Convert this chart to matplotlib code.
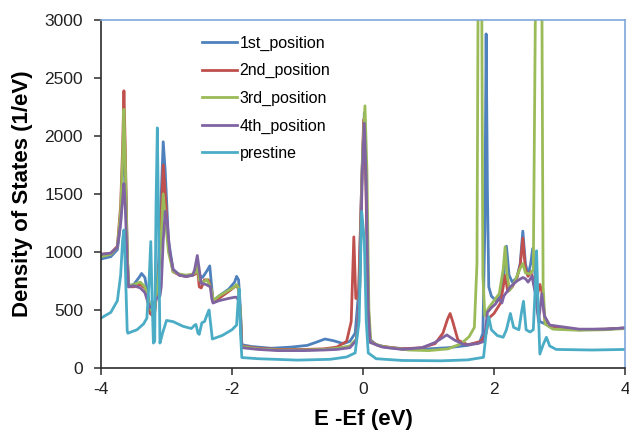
import matplotlib
matplotlib.use("Agg")
import matplotlib.pyplot as plt

plt.rcParams['font.family'] = ['Liberation Sans', 'DejaVu Sans']

# 1st_position
e1 = [-4.0, -3.85, -3.75, -3.70, -3.67, -3.65, -3.63, -3.60, -3.58, -3.50, -3.42, -3.38, -3.33, -3.28,
      -3.25, -3.22, -3.18, -3.12, -3.08, -3.05, -3.02, -2.97, -2.90, -2.80, -2.70, -2.60, -2.56, -2.53,
      -2.50, -2.45, -2.38, -2.34, -2.31, -2.29, -2.20, -2.05, -1.96, -1.93, -1.90, -1.87, -1.85, -1.70,
      -1.40, -1.10, -0.85, -0.70, -0.58, -0.45, -0.30, -0.20, -0.12, -0.06, -0.02, 0.02, 0.05, 0.08,
      0.10, 0.20, 0.40, 0.70, 1.00, 1.30, 1.60, 1.78, 1.83, 1.86, 1.88, 1.90, 1.92, 1.96, 2.03, 2.10,
      2.15, 2.19, 2.23, 2.28, 2.35, 2.40, 2.44, 2.48, 2.52, 2.56, 2.59, 2.62, 2.66, 2.70, 2.78, 2.90,
      3.30, 3.70, 4.0]
v1 = [940, 960, 1020, 1250, 1700, 2050, 1700, 1000, 710, 720, 780, 815, 780, 620,
      520, 470, 500, 900, 1500, 1950, 1700, 1100, 850, 800, 790, 800, 820, 900,
      800, 780, 840, 880, 700, 580, 620, 680, 740, 790, 760, 500, 200, 185,
      170, 180, 195, 225, 250, 235, 210, 230, 300, 700, 1600, 2200, 1500, 600,
      250, 200, 175, 165, 165, 175, 195, 220, 300, 1200, 2880, 1500, 700, 620, 580, 620,
      800, 1050, 800, 740, 780, 900, 1180, 900, 800, 900, 1030, 850, 500, 400, 380, 340,
      330, 335, 345]

# 2nd_position
e2 = [-4.0, -3.85, -3.75, -3.70, -3.67, -3.65, -3.63, -3.60, -3.58, -3.50, -3.40, -3.33, -3.28, -3.25,
      -3.22, -3.18, -3.12, -3.08, -3.05, -3.02, -2.97, -2.90, -2.80, -2.70, -2.60, -2.56, -2.53, -2.50,
      -2.47, -2.42, -2.36, -2.31, -2.29, -2.20, -2.05, -1.96, -1.93, -1.90, -1.87, -1.85, -1.60, -1.30,
      -0.90, -0.60, -0.40, -0.25, -0.18, -0.14, -0.11, -0.07, -0.03, 0.01, 0.04, 0.08, 0.11, 0.25,
      0.60, 0.90, 1.10, 1.22, 1.29, 1.33, 1.37, 1.45, 1.60, 1.80, 1.88, 1.92, 2.00, 2.10, 2.17, 2.21,
      2.28, 2.35, 2.40, 2.44, 2.48, 2.52, 2.56, 2.60, 2.65, 2.70, 2.73, 2.78, 2.90, 3.30, 3.70, 4.0]
v2 = [980, 990, 1050, 1400, 1900, 2390, 1900, 1000, 700, 700, 720, 690, 560, 470,
      455, 480, 800, 1300, 1750, 1500, 1050, 830, 800, 790, 800, 810, 880, 700,
      690, 760, 760, 650, 570, 600, 660, 700, 710, 680, 450, 190, 170, 160,
      160, 165, 180, 230, 400, 1130, 600, 600, 1400, 2140, 1700, 500, 230, 190,
      165, 175, 210, 300, 420, 470, 400, 240, 200, 230, 300, 430, 470, 560, 800, 660,
      700, 780, 880, 1120, 850, 790, 830, 760, 600, 720, 660, 400, 345, 330, 335, 345]

# 3rd_position
e3 = [-4.0, -3.85, -3.75, -3.70, -3.67, -3.65, -3.63, -3.60, -3.58, -3.50, -3.40, -3.33, -3.28, -3.25,
      -3.22, -3.18, -3.12, -3.08, -3.05, -3.02, -2.97, -2.90, -2.80, -2.70, -2.60, -2.56, -2.53, -2.50,
      -2.45, -2.38, -2.31, -2.29, -2.20, -2.05, -1.96, -1.93, -1.90, -1.87, -1.85, -1.60, -1.30, -0.90,
      -0.60, -0.40, -0.20, -0.10, -0.05, -0.01, 0.03, 0.06, 0.09, 0.12, 0.30, 0.70, 1.00, 1.30,
      1.50, 1.62, 1.70, 1.74, 1.76, 1.81, 1.83, 1.86, 1.92, 2.00, 2.08, 2.14, 2.17, 2.20, 2.24, 2.32,
      2.40, 2.44, 2.48, 2.55, 2.60, 2.645, 2.725, 2.75, 2.78, 2.90, 3.30, 3.70, 4.0]
v3 = [960, 980, 1040, 1350, 1800, 2230, 1800, 1000, 710, 720, 740, 700, 600, 520,
      490, 520, 800, 1150, 1500, 1300, 1000, 830, 810, 800, 810, 820, 900, 760,
      740, 760, 670, 580, 620, 670, 700, 720, 690, 450, 185, 165, 155, 155,
      160, 170, 190, 250, 700, 1800, 2260, 1700, 500, 220, 185, 155, 150, 165,
      210, 270, 350, 900, 3600, 3600, 800, 450, 520, 580, 640, 850, 1045, 800, 670, 750,
      860, 900, 820, 810, 850, 4000, 4000, 700, 380, 335, 325, 330, 340]

# 4th_position
e4 = [-4.0, -3.85, -3.75, -3.70, -3.67, -3.65, -3.63, -3.60, -3.58, -3.50, -3.40, -3.33, -3.28, -3.25,
      -3.22, -3.15, -3.10, -3.08, -3.05, -3.02, -2.99, -2.95, -2.90, -2.80, -2.70, -2.60, -2.57, -2.53,
      -2.50, -2.47, -2.40, -2.33, -2.31, -2.29, -2.20, -2.05, -1.96, -1.93, -1.90, -1.87, -1.85, -1.60,
      -1.30, -0.90, -0.60, -0.40, -0.20, -0.10, -0.05, -0.01, 0.02, 0.05, 0.08, 0.11, 0.30, 0.60,
      0.90, 1.10, 1.28, 1.40, 1.55, 1.75, 1.85, 1.90, 1.96, 2.02, 2.08, 2.12, 2.15, 2.25, 2.35, 2.44,
      2.48, 2.52, 2.58, 2.64, 2.68, 2.73, 2.77, 2.85, 3.30, 3.70, 4.0]
v4 = [980, 990, 1040, 1250, 1450, 1590, 1400, 900, 700, 710, 690, 650, 560, 520,
      530, 600, 620, 700, 1100, 1350, 1250, 1000, 850, 800, 790, 800, 850, 970,
      850, 730, 720, 700, 600, 560, 580, 600, 610, 610, 580, 400, 175, 160,
      150, 150, 155, 160, 175, 240, 700, 1700, 2110, 1600, 500, 220, 180, 160,
      175, 220, 285, 240, 200, 210, 230, 480, 520, 550, 600, 560, 620, 700, 750, 780,
      770, 740, 790, 620, 400, 640, 450, 370, 335, 335, 345]

# prestine
e5 = [-4.0, -3.85, -3.75, -3.70, -3.67, -3.65, -3.63, -3.60, -3.59, -3.45, -3.35, -3.30, -3.27, -3.24,
      -3.22, -3.20, -3.18, -3.16, -3.14, -3.12, -3.10, -3.06, -3.00, -2.90, -2.75, -2.62, -2.57, -2.55,
      -2.52, -2.50, -2.46, -2.42, -2.38, -2.35, -2.32, -2.30, -2.15, -2.00, -1.93, -1.91, -1.89, -1.87,
      -1.85, -1.60, -1.00, -0.50, -0.25, -0.12, -0.06, -0.02, 0.02, 0.05, 0.08, 0.20, 0.60, 1.20,
      1.60, 1.84, 1.88, 1.92, 1.96, 2.05, 2.14, 2.19, 2.25, 2.30, 2.38, 2.42, 2.45, 2.49, 2.55, 2.60,
      2.63, 2.65, 2.67, 2.70, 2.75, 2.80, 2.85, 2.95, 3.50, 4.0]
v5 = [430, 480, 580, 800, 1100, 1190, 900, 320, 300, 330, 380, 430, 700, 1090,
      600, 215, 230, 1400, 2070, 1200, 215, 300, 410, 400, 360, 340, 370, 375,
      300, 290, 390, 400, 460, 500, 350, 250, 280, 330, 370, 550, 680, 300,
      90, 80, 68, 75, 95, 130, 400, 1350, 1100, 400, 130, 80, 65, 62,
      70, 92, 300, 440, 330, 280, 265, 330, 470, 350, 330, 480, 575, 330, 310, 330,
      700, 1010, 600, 120, 200, 265, 190, 160, 155, 160]

labels = ["1st_position", "2nd_position", "3rd_position", "4th_position", "prestine"]
colors = ["#4F81BD", "#C0504D", "#9BBB59", "#8064A2", "#4BACC6"]

fig = plt.figure(figsize=(6.29, 4.38), dpi=100)
ax = fig.add_axes([101 / 629, 1 - 368 / 438, 524 / 629, 348 / 438])

for e, v, lab, c in zip([e1, e2, e3, e4, e5], [v1, v2, v3, v4, v5], labels, colors):
    ax.plot(e, v, color=c, lw=2, label=lab, solid_joinstyle='round')

ax.set_xlim(-4, 4)
ax.set_ylim(0, 3000)
ax.set_xticks([-4, -2, 0, 2, 4])
ax.set_xticklabels(["-4", "-2", "0", "2", "4"])
ax.set_yticks(range(0, 3001, 500))

for s in ["top", "right"]:
    ax.spines[s].set_color("#7FA7DA")
    ax.spines[s].set_linewidth(1.2)
for s in ["left", "bottom"]:
    ax.spines[s].set_color("#2b2b2b")
    ax.spines[s].set_linewidth(1.2)
ax.tick_params(axis="both", direction="out", length=5, width=1.1, color="#2b2b2b",
               labelsize=12.5, labelcolor="#222222")
ax.tick_params(axis="x", pad=5)
ax.tick_params(axis="y", pad=8)

ax.set_xlabel("E -Ef (eV)", fontsize=16, fontweight="bold", labelpad=9)
ax.set_ylabel("Density of States (1/eV)", fontsize=16, fontweight="bold", labelpad=8)

ax.legend(loc="upper left", bbox_to_anchor=(0.193, 0.955), bbox_transform=ax.transAxes,
          frameon=False, fontsize=11.5, handlelength=2.2, handletextpad=0.15,
          labelspacing=0.78, borderpad=0, borderaxespad=0)

fig.savefig("out.png", dpi=100)
